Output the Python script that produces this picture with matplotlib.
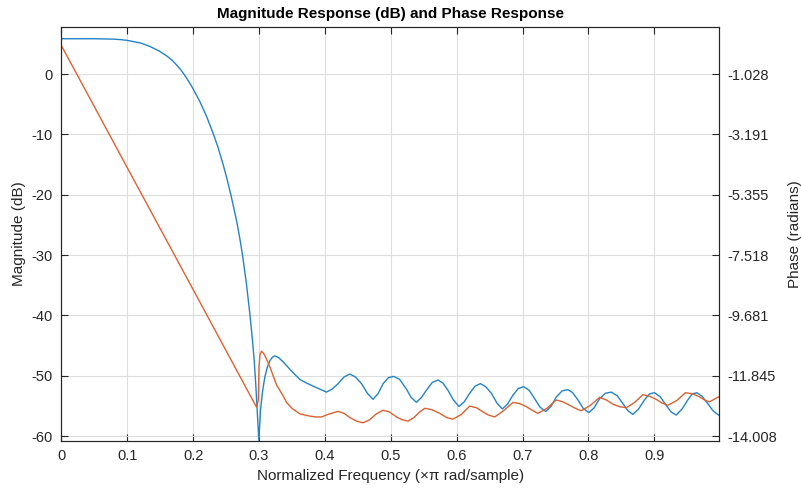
import numpy as np
import matplotlib.pyplot as plt

plt.rcParams['font.family'] = ['Liberation Sans', 'DejaVu Sans']
plt.rcParams['axes.unicode_minus'] = False

# magnitude response (dB)
mag_f = [0.000, 0.050, 0.080, 0.090, 0.100, 0.120, 0.134, 0.148, 0.160, 0.168,
         0.175, 0.181, 0.186, 0.192, 0.1977, 0.210, 0.2204, 0.2305, 0.238, 0.2456,
         0.251, 0.2573, 0.262, 0.2669, 0.271, 0.2750, 0.281, 0.2861, 0.290, 0.2927,
         0.295, 0.2972, 0.2998, 0.3023, 0.3055, 0.3089, 0.3125, 0.3165, 0.3205,
         0.3240, 0.330, 0.3366, 0.3418, 0.350, 0.362, 0.372, 0.382, 0.392, 0.4024,
         0.411, 0.420, 0.429, 0.4378, 0.4465, 0.4555, 0.4645, 0.4731, 0.481,
         0.4883, 0.4965, 0.5045, 0.5135, 0.5237, 0.531, 0.539, 0.5465, 0.554,
         0.563, 0.5717, 0.579, 0.5868, 0.595, 0.6035, 0.6115, 0.6197, 0.628,
         0.636, 0.644, 0.6526, 0.661, 0.6693, 0.677, 0.6854, 0.6935, 0.7016,
         0.710, 0.7183, 0.7265, 0.735, 0.743, 0.7512, 0.760, 0.7688, 0.776,
         0.784, 0.792, 0.8006, 0.8085, 0.8168, 0.8255, 0.8346, 0.8435, 0.8522,
         0.860, 0.8673, 0.876, 0.885, 0.8925, 0.9002, 0.909, 0.918, 0.9255,
         0.9331, 0.942, 0.9507, 0.9575, 0.9644, 0.9725, 0.981, 0.989, 0.9973]
mag_db = [5.85, 5.85, 5.78, 5.70, 5.58, 5.15, 4.60, 3.85, 3.00, 2.30,
          1.50, 0.75, 0.00, -1.00, -2.00, -4.50, -7.00, -9.85, -12.2, -15.0,
          -17.2, -20.0, -22.3, -24.8, -27.3, -30.0, -34.8, -39.7, -44.0, -47.4,
          -51.2, -55.6, -60.7, -55.7, -52.5, -50.2, -48.6, -47.5, -46.9,
          -46.7, -47.0, -47.7, -48.3, -49.3, -50.6, -51.2, -51.7, -52.2, -52.7,
          -52.2, -51.3, -50.2, -49.7, -50.2, -51.3, -52.9, -53.9, -52.9,
          -51.3, -50.3, -50.1, -50.6, -52.2, -53.6, -54.4, -53.6, -52.4,
          -51.1, -50.7, -51.2, -52.4, -54.0, -55.1, -54.3, -52.9, -51.7,
          -51.3, -51.8, -52.9, -54.5, -55.5, -54.7, -53.2, -52.1, -51.8,
          -52.4, -53.8, -55.2, -55.9, -55.1, -53.5, -52.5, -52.3, -52.8,
          -54.0, -55.4, -56.1, -55.3, -53.8, -52.9, -52.7, -53.3, -54.6,
          -55.8, -56.4, -55.5, -54.0, -53.0, -52.8, -53.5, -54.9, -56.0,
          -56.5, -55.5, -54.0, -53.0, -52.8, -53.4, -54.6, -55.8, -56.5]

# phase response (radians), read against the right axis
ph_f = [0.0, 0.1, 0.2, 0.2963, 0.2990, 0.3000, 0.3015, 0.3038, 0.3070, 0.3114,
        0.3165, 0.3266, 0.3366, 0.3418, 0.3500, 0.3620, 0.3771, 0.3860, 0.3948,
        0.4070, 0.4200, 0.4290, 0.4378, 0.4480, 0.4579, 0.4680, 0.4780, 0.4883,
        0.4980, 0.5086, 0.5175, 0.5262, 0.5350, 0.5439, 0.5515, 0.5625, 0.5742,
        0.5845, 0.5944, 0.6070, 0.6197, 0.6300, 0.6399, 0.6480, 0.6576, 0.6710,
        0.6854, 0.6955, 0.7057, 0.7145, 0.7233, 0.7370, 0.7512, 0.7612, 0.7713,
        0.7800, 0.7890, 0.8030, 0.8168, 0.8270, 0.8370, 0.8470, 0.8573, 0.8700,
        0.8825, 0.8930, 0.9028, 0.9115, 0.9204, 0.9340, 0.9472, 0.9580, 0.9685,
        0.9760, 0.9836, 0.9973]
ph_rad = [0.00, -4.38, -8.75, -12.97, -12.71, -11.52, -11.09, -10.96, -11.04, -11.24,
          -11.52, -12.17, -12.56, -12.80, -13.01, -13.21, -13.29, -13.32, -13.32,
          -13.21, -13.12, -13.19, -13.34, -13.47, -13.53, -13.42, -13.21, -13.08,
          -13.14, -13.32, -13.42, -13.47, -13.34, -13.14, -13.01, -13.06, -13.19,
          -13.34, -13.40, -13.23, -12.93, -12.99, -13.14, -13.25, -13.32, -13.10,
          -12.80, -12.84, -12.95, -13.08, -13.19, -13.01, -12.71, -12.78, -12.90,
          -13.01, -13.10, -12.90, -12.62, -12.71, -12.86, -12.95, -12.99, -12.80,
          -12.52, -12.58, -12.69, -12.82, -12.90, -12.73, -12.45, -12.49, -12.60,
          -12.71, -12.78, -12.60]

mag_ticks = [0, -10, -20, -30, -40, -50, -60]
ph_ticks = [-1.028, -3.191, -5.355, -7.518, -9.681, -11.845, -14.008]
x_ticks = [0, 0.1, 0.2, 0.3, 0.4, 0.5, 0.6, 0.7, 0.8, 0.9]

blue = '#2483c5'
orange = '#dc6132'
axcol = '#262626'

fig = plt.figure(figsize=(8.01, 4.92), dpi=100)
ax1 = fig.add_axes([0.0765, 0.1037, 0.8211, 0.842])
ax2 = ax1.twinx()

ax1.plot(mag_f, mag_db, color=blue, lw=1.0)
ax2.plot(ph_f, ph_rad, color=orange, lw=1.0)

# keep the right axis aligned with the left one
ylo, yhi = -60.8, 7.84
k = (ph_ticks[-1] - ph_ticks[0]) / (mag_ticks[-1] - mag_ticks[0])
ax1.set_ylim(ylo, yhi)
ax2.set_ylim(ph_ticks[0] + k * ylo, ph_ticks[0] + k * yhi)
ax1.set_xlim(0, 0.998)

ax1.set_xticks(x_ticks)
ax1.set_xticklabels(['0'] + [str(t) for t in x_ticks[1:]])
ax1.set_yticks(mag_ticks)
ax2.set_yticks(ph_ticks)
ax2.set_yticklabels(['%.3f' % t for t in ph_ticks])

ax1.grid(True, color='#dedede', lw=0.8)
ax1.set_axisbelow(True)
ax1.tick_params(direction='in', length=5, width=0.8, colors=axcol, labelsize=10.5,
                top=True, pad=6)
ax2.tick_params(direction='in', length=5, width=0.8, colors=axcol, labelsize=10.5, pad=6)
for ax in (ax1, ax2):
    for s in ax.spines.values():
        s.set_color(axcol)
        s.set_linewidth(0.8)

ax1.set_xlabel('Normalized Frequency (\u00d7\u03c0 rad/sample)', fontsize=11, color=axcol, labelpad=4)
ax1.set_ylabel('Magnitude (dB)', fontsize=11, color=axcol, labelpad=4)
ax2.set_ylabel('Phase (radians)', fontsize=11, color=axcol, labelpad=8)
ax1.set_title('Magnitude Response (dB) and Phase Response', fontsize=11,
              fontweight='bold', color='black', pad=6)

plt.savefig('out.png', dpi=100)
